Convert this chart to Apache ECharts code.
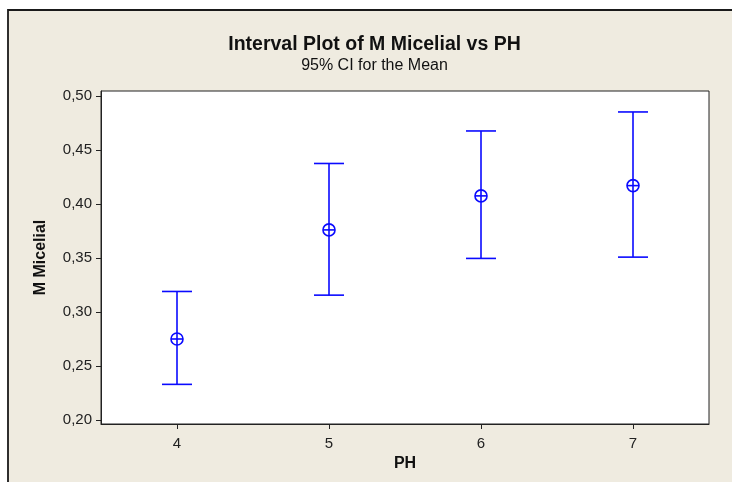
<!DOCTYPE html>
<html>
<head>
<meta charset="utf-8">
<script src="https://cdn.jsdelivr.net/npm/echarts@6/dist/echarts.min.js"></script>
<style>html,body{margin:0;padding:0;background:#fff;}#chart{width:732px;height:482px;}</style>
</head>
<body>
<div id="chart"></div>
<script>
const phLevels = ['4', '5', '6', '7'];
const means = [0.275, 0.376, 0.4075, 0.417];
const lowerCI = [0.233, 0.3156, 0.3496, 0.3508];
const upperCI = [0.319, 0.4375, 0.4676, 0.4852];
const yTicks = [0.20, 0.25, 0.30, 0.35, 0.40, 0.45, 0.50];

const FONT = '"Liberation Sans", Arial, sans-serif';
const BLUE = '#0a0aff';

const seriesData = phLevels.map((p, i) => [i, means[i], lowerCI[i], upperCI[i]]);

const chart = echarts.init(document.getElementById('chart'), null, { renderer: 'canvas' });

chart.setOption({
  backgroundColor: '#ffffff',
  animation: false,
  graphic: [
    {
      type: 'rect', z: -10, silent: true,
      shape: { x: 8, y: 10, width: 800, height: 600 },
      style: { fill: '#efebe0', stroke: '#1a1a1a', lineWidth: 1.8 }
    },
    {
      type: 'text', z: 10,
      style: {
        text: 'Interval Plot of M Micelial vs PH', x: 374.5, y: 45,
        textAlign: 'center', textVerticalAlign: 'middle',
        font: 'bold 19.5px ' + FONT, fill: '#111'
      }
    },
    {
      type: 'text', z: 10,
      style: {
        text: '95% CI for the Mean', x: 374.5, y: 66,
        textAlign: 'center', textVerticalAlign: 'middle',
        font: '16px ' + FONT, fill: '#111'
      }
    }
  ],
  grid: {
    left: 101, right: 23, top: 91, bottom: 58,
    show: true, backgroundColor: '#ffffff', borderColor: '#222', borderWidth: 1
  },
  xAxis: {
    type: 'category',
    data: phLevels,
    boundaryGap: true,
    name: 'PH',
    nameLocation: 'middle',
    nameGap: 32,
    nameTextStyle: { fontFamily: FONT, fontSize: 16, fontWeight: 'bold', color: '#111' },
    axisLine: { show: true, lineStyle: { color: '#222', width: 1 } },
    axisTick: { show: true, alignWithLabel: true, length: 5, lineStyle: { color: '#222' } },
    axisLabel: { fontFamily: FONT, fontSize: 15, color: '#222', margin: 12 },
    splitLine: { show: false }
  },
  yAxis: {
    type: 'value',
    min: 0.1963,
    max: 0.5046,
    name: 'M Micelial',
    nameLocation: 'middle',
    nameGap: 52,
    nameRotate: 90,
    nameTextStyle: { fontFamily: FONT, fontSize: 16, fontWeight: 'bold', color: '#111' },
    axisLine: { show: true, lineStyle: { color: '#222', width: 1 } },
    axisTick: { show: true, length: 5, customValues: yTicks, lineStyle: { color: '#222' } },
    axisLabel: {
      fontFamily: FONT, fontSize: 15, color: '#222', margin: 9,
      customValues: yTicks,
      formatter: v => Number(v).toFixed(2).replace('.', ',')
    },
    splitLine: { show: false }
  },
  series: [{
    type: 'custom',
    data: seriesData,
    encode: { x: 0, y: [1, 2, 3] },
    renderItem: function (params, api) {
      const idx = api.value(0);
      const m = api.coord([idx, api.value(1)]);
      const lo = api.coord([idx, api.value(2)]);
      const hi = api.coord([idx, api.value(3)]);
      const x = Math.round(m[0]);
      const capW = 15, r = 6;
      const st = { stroke: BLUE, lineWidth: 1.6, fill: null };
      return {
        type: 'group',
        children: [
          { type: 'line', shape: { x1: x, y1: lo[1], x2: x, y2: hi[1] }, style: st },
          { type: 'line', shape: { x1: x - capW, y1: lo[1], x2: x + capW, y2: lo[1] }, style: st },
          { type: 'line', shape: { x1: x - capW, y1: hi[1], x2: x + capW, y2: hi[1] }, style: st },
          { type: 'circle', shape: { cx: x, cy: m[1], r: r }, style: { stroke: BLUE, lineWidth: 1.6, fill: 'rgba(0,0,0,0)' } },
          { type: 'line', shape: { x1: x - r, y1: m[1], x2: x + r, y2: m[1] }, style: st }
        ]
      };
    }
  }]
});
</script>
</body>
</html>
